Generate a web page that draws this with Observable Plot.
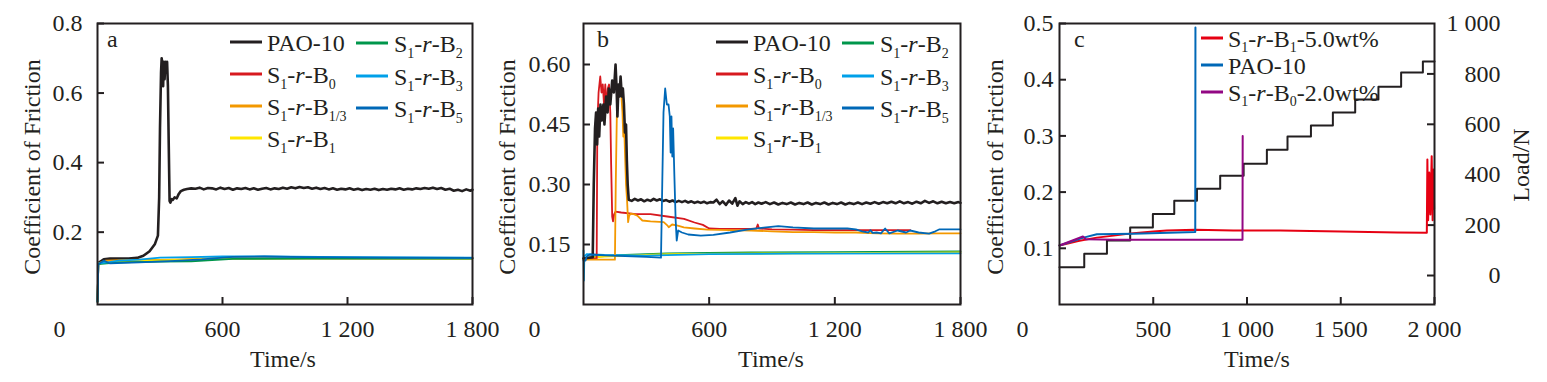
<!DOCTYPE html>
<html><head><meta charset="utf-8">
<script src="https://cdn.jsdelivr.net/npm/d3@7"></script>
<script src="https://cdn.jsdelivr.net/npm/@observablehq/plot@0.6"></script>
<style>
html,body{margin:0;padding:0;background:#fff;}
#wrap{position:relative;width:1547px;height:382px;overflow:hidden;}
#wrap svg{position:absolute;left:0;top:0;}
</style></head><body><div id="wrap"></div>
<script>
// ---------- tick values & labels ----------
const xTicksAB = [0, 600, 1200, 1800];
const xLabelsAB = ["0", "600", "1 200", "1 800"];
const yTicksA = [0.2, 0.4, 0.6, 0.8];
const yLabelsA = ["0.2", "0.4", "0.6", "0.8"];
const yTicksB = [0.15, 0.30, 0.45, 0.60];
const yLabelsB = ["0.15", "0.30", "0.45", "0.60"];
const xTicksC = [0, 500, 1000, 1500, 2000];
const xLabelsC = ["0", "500", "1 000", "1 500", "2 000"];
const yTicksC = [0.1, 0.2, 0.3, 0.4, 0.5];
const yLabelsC = ["0.1", "0.2", "0.3", "0.4", "0.5"];
const loadTicks = [0, 200, 400, 600, 800, 1000];
const loadLabels = ["0", "200", "400", "600", "800", "1 000"];

// ---------- series names & colours ----------
const namesAB = ["PAO-10", "S1-r-B0", "S1-r-B1/3", "S1-r-B1", "S1-r-B2", "S1-r-B3", "S1-r-B5"];
const colorsAB = ["#231f20", "#d7191f", "#f39800", "#ffe600", "#00964b", "#00a0e9", "#0068b7"];
const namesC = ["S1-r-B1-5.0wt%", "PAO-10", "S1-r-B0-2.0wt%"];
const colorsC = ["#e60012", "#0068b7", "#920783"];

// ---------- panel a : [time s, COF] ----------
const aPAO = [[5,0.112],[30,0.122],[60,0.124],[100,0.124],[150,0.124],[190,0.126],[220,0.132],[250,0.145],[275,0.165],[290,0.19],[296,0.30],[300,0.50],[305,0.66],[308,0.70],[312,0.68],[315,0.62],[318,0.69],[322,0.64],[326,0.69],[330,0.68],[334,0.69],[338,0.62],[342,0.45],[346,0.29],[350,0.285],[356,0.295],[362,0.293],[370,0.300],[380,0.297],[390,0.31],[400,0.318],[415,0.322],[430,0.324],[450,0.326],[470,0.325],[490,0.328],[510,0.323],[530,0.327],
[550,0.326],[570,0.323],[590,0.328],[610,0.324],[630,0.327],[650,0.322],[670,0.326],[690,0.324],[710,0.327],[730,0.323],[750,0.326],[770,0.322],[790,0.325],[810,0.327],[830,0.323],[850,0.326],[870,0.324],[890,0.328],[910,0.325],[930,0.329],[950,0.326],[970,0.330],[990,0.327],[1010,0.329],[1030,0.325],[1050,0.328],[1070,0.324],[1090,0.327],[1110,0.323],[1130,0.326],[1150,0.322],[1170,0.325],[1190,0.323],[1210,0.326],[1230,0.322],[1250,0.325],[1270,0.321],[1290,0.324],[1310,0.322],[1330,0.325],[1350,0.321],[1370,0.324],[1390,0.322],[1410,0.325],[1430,0.323],[1450,0.326],[1470,0.322],[1490,0.325],[1510,0.323],[1530,0.326],[1550,0.324],[1570,0.327],[1590,0.325],[1610,0.328],[1630,0.324],[1650,0.327],[1670,0.322],[1690,0.325],[1710,0.319],[1730,0.322],[1750,0.318],[1770,0.323],[1790,0.319],[1800,0.322]];
const aB0 = [[0,0],[4,0.108],[40,0.115],[150,0.117],[300,0.119],[450,0.121],[600,0.124],[900,0.125],[1200,0.125],[1800,0.125]];
const aB13 = [[0,0],[4,0.11],[40,0.118],[150,0.12],[250,0.121],[300,0.12],[400,0.122],[500,0.124],[600,0.126],[800,0.126],[1200,0.125],[1800,0.125]];
const aB1 = [[0,0],[4,0.11],[100,0.117],[300,0.119],[600,0.124],[1200,0.125],[1800,0.124]];
const aB2 = [[0,0],[4,0.108],[100,0.113],[300,0.115],[450,0.116],[550,0.12],[650,0.123],[1000,0.124],[1800,0.124]];
const aB3 = [[0,0],[4,0.11],[50,0.113],[100,0.118],[200,0.121],[300,0.127],[450,0.128],[600,0.13],[800,0.13],[1200,0.128],[1800,0.127]];
const aB5 = [[0,0],[4,0.108],[30,0.118],[60,0.11],[200,0.113],[350,0.117],[500,0.122],[650,0.129],[800,0.13],[1000,0.128],[1400,0.127],[1800,0.126]];

// ---------- panel b ----------
const bPAO = [[0,0.115],[44,0.118],[49,0.30],[55,0.44],[60,0.48],[65,0.40],[70,0.49],[75,0.42],[81,0.50],[88,0.46],[95,0.50],[100,0.45],[108,0.52],[115,0.48],[121,0.54],[128,0.50],[137,0.56],[145,0.53],[153,0.60],[158,0.54],[162,0.47],[167,0.55],[172,0.52],[177,0.57],[183,0.52],[188,0.54],[193,0.50],[198,0.43],[203,0.45],[207,0.36],[211,0.30],[216,0.262],
[230,0.259],[245,0.264],[260,0.260],[275,0.263],[290,0.258],[305,0.262],[320,0.259],[335,0.264],[350,0.260],[365,0.263],[380,0.259],[395,0.261],[410,0.257],[425,0.260],[440,0.256],[455,0.259],[470,0.256],[485,0.259],[500,0.255],[515,0.258],[530,0.254],[545,0.257],[560,0.254],[575,0.257],[590,0.253],[605,0.256],[620,0.255],[635,0.262],[650,0.251],[665,0.258],[680,0.249],[695,0.260],[710,0.252],[725,0.266],[735,0.247],[745,0.258],[760,0.251],[775,0.256],[790,0.252],[805,0.256],[820,0.251],[835,0.255],[850,0.252],[870,0.256],[890,0.251],[910,0.255],[930,0.250],[950,0.254],[970,0.251],[990,0.255],[1010,0.250],[1030,0.254],[1050,0.251],[1070,0.255],[1090,0.250],[1110,0.254],[1130,0.251],[1150,0.255],[1170,0.250],[1190,0.254],[1210,0.251],[1230,0.255],[1250,0.250],[1270,0.254],[1290,0.251],[1310,0.255],[1330,0.251],[1350,0.255],[1370,0.252],[1390,0.256],[1410,0.252],[1430,0.256],[1450,0.253],[1470,0.257],[1490,0.253],[1510,0.258],[1530,0.253],[1550,0.256],[1570,0.252],[1590,0.257],[1610,0.253],[1630,0.259],[1650,0.254],[1670,0.258],[1690,0.253],[1710,0.257],[1730,0.253],[1750,0.256],[1770,0.253],[1790,0.256],[1800,0.254]];
const bB0 = [[0,0.115],[63,0.115],[66,0.45],[72,0.53],[80,0.57],[86,0.53],[92,0.55],[98,0.50],[104,0.55],[110,0.49],[116,0.54],[122,0.55],[128,0.48],[132,0.35],[137,0.22],[141,0.208],[146,0.225],[153,0.232],[180,0.23],[250,0.226],[320,0.226],[400,0.22],[480,0.214],[530,0.205],[570,0.199],[600,0.19],[650,0.189],[800,0.189],[825,0.19],[832,0.2],[838,0.19],[900,0.188],[1000,0.187],[1100,0.186],[1200,0.186],[1300,0.186],[1400,0.186],[1500,0.186],[1560,0.186]];
const bB13 = [[0,0.112],[150,0.112],[154,0.30],[160,0.50],[166,0.54],[171,0.52],[176,0.55],[181,0.52],[186,0.48],[190,0.42],[194,0.45],[198,0.38],[203,0.30],[208,0.26],[213,0.206],[218,0.222],[225,0.227],[240,0.226],[257,0.222],[281,0.21],[320,0.208],[383,0.206],[400,0.198],[407,0.193],[423,0.2],[450,0.197],[479,0.193],[530,0.19],[592,0.187],[700,0.186],[800,0.185],[900,0.183],[1000,0.181],[1100,0.181],[1200,0.18],[1300,0.18],[1400,0.178],[1500,0.177],[1600,0.177],[1700,0.178],[1800,0.178]];
const bB1 = [[0,0.115],[100,0.12],[400,0.126],[1000,0.128],[1800,0.13]];
const bB2 = [[0,0.115],[60,0.12],[200,0.124],[400,0.128],[800,0.13],[1200,0.131],[1800,0.133]];
const bB3 = [[0,0.135],[2,0.06],[4,0.12],[15,0.126],[100,0.124],[300,0.122],[600,0.126],[1000,0.127],[1800,0.128]];
const bB5 = [[0,0.11],[10,0.11],[15,0.12],[30,0.125],[100,0.123],[200,0.121],[300,0.119],[370,0.117],[376,0.30],[382,0.48],[390,0.54],[398,0.50],[406,0.50],[412,0.47],[416,0.38],[420,0.47],[424,0.37],[428,0.44],[434,0.32],[440,0.21],[445,0.16],[452,0.185],[470,0.18],[500,0.175],[560,0.172],[620,0.174],[700,0.18],[780,0.187],[860,0.192],[930,0.196],[1000,0.193],[1100,0.19],[1200,0.19],[1260,0.19],[1300,0.188],[1330,0.183],[1360,0.18],[1370,0.186],[1380,0.179],[1400,0.18],[1420,0.178],[1440,0.19],[1460,0.178],[1500,0.185],[1540,0.18],[1560,0.185],[1600,0.18],[1650,0.177],[1680,0.183],[1700,0.188],[1800,0.188]];

// ---------- panel c ----------
const cB1 = [[0,0.105],[100,0.113],[199,0.119],[300,0.123],[395,0.127],[500,0.13],[572,0.1317],[724,0.133],[927,0.1317],[1177,0.1317],[1500,0.13],[1800,0.128],[1959,0.1275],[1962,0.258],[1966,0.15],[1972,0.235],[1978,0.16],[1985,0.264],[1990,0.15],[1995,0.24],[1998,0.17]];
const cPAO = [[0,0.105],[128,0.119],[199,0.125],[395,0.126],[724,0.129],[725,0.493]];
const cB0 = [[0,0.105],[125,0.121],[140,0.116],[300,0.115],[976,0.115],[977,0.30]];
const loadTimes = [0,132,253,377,498,612,733,857,982,1106,1216,1341,1458,1577,1701,1822,1938,2000];
const loadValues = [33,86,139,191,244,297,344,396,443,499,552,595,647,698,749,806,849,849];

// ---------- helpers ----------
const W = 1547, H = 382, ink = "#231f20";
const FONT = "'Liberation Serif','Times New Roman',serif";
const style = {background: "transparent", fontFamily: FONT, fontSize: "24px", color: ink, overflow: "visible"};
const fmt = (ticks, labels) => d => labels[ticks.findIndex(t => Math.abs(t - d) < 1e-9)];
const lineMarks = (list, colors, widths) => list.map((s, i) => Plot.line(s, {x: d => d[0], y: d => d[1], stroke: colors[i], strokeWidth: widths ? widths[i] : 1.8}));
const T = 7;

function panel({left, right, xDomain, yDomain, xTicks, xLabels, yTicks, yLabels, yPad, zeroDx, lines}) {
  const fw = right - left, fh = 304 - 23;
  return Plot.plot({
    width: W, height: H, marginLeft: left, marginRight: W - right, marginTop: 23, marginBottom: H - 304,
    x: {domain: xDomain}, y: {domain: yDomain}, style,
    marks: [
      ...lines,
      Plot.frame({stroke: ink, strokeWidth: 2}),
      Plot.ruleY(yTicks, {insetRight: fw - T, stroke: ink, strokeWidth: 2}),
      Plot.ruleX(xTicks.slice(1), {insetTop: fh - T, stroke: ink, strokeWidth: 2}),
      Plot.axisY({ticks: yTicks, tickFormat: fmt(yTicks, yLabels), tickSize: 0, tickPadding: yPad, label: null}),
      Plot.axisX({ticks: xTicks.slice(1), tickFormat: fmt(xTicks, xLabels), tickSize: 0, tickPadding: 15, label: null}),
      Plot.axisX({ticks: [0], tickFormat: fmt(xTicks, xLabels), tickSize: 0, tickPadding: 15, dx: zeroDx, label: null})
    ]
  });
}

const wrap = document.getElementById("wrap");

const pa = panel({left: 97, right: 472, xDomain: [0, 1800], yDomain: [-0.008, 0.8], xTicks: xTicksAB, xLabels: xLabelsAB,
  yTicks: yTicksA, yLabels: yLabelsA, yPad: 15, zeroDx: -38,
  lines: lineMarks([aPAO, aB0, aB13, aB1, aB2, aB3, aB5], colorsAB, [2.6, 1.8, 1.8, 1.8, 1.8, 1.8, 1.8])});
const orderB = [4, 3, 5, 1, 2, 0, 6];
const bData = [bPAO, bB0, bB13, bB1, bB2, bB3, bB5];
const pb = panel({left: 583, right: 960, xDomain: [0, 1800], yDomain: [0, 0.7025], xTicks: xTicksAB, xLabels: xLabelsAB,
  yTicks: yTicksB, yLabels: yLabelsB, yPad: 13, zeroDx: -49,
  lines: lineMarks(orderB.map(i => bData[i]), orderB.map(i => colorsAB[i]), orderB.map(i => i === 0 ? 2.6 : 1.8))});

// load (right axis) for panel c
const loadPts = loadTimes.map((t, i) => [t, loadValues[i]]);
const pcLoad = Plot.plot({
  width: W, height: H, marginLeft: 1059, marginRight: W - 1434, marginTop: 23, marginBottom: H - 304,
  x: {domain: [0, 2000], axis: null}, y: {domain: [-115, 1000]}, style,
  marks: [
    Plot.line(loadPts, {x: d => d[0], y: d => d[1], curve: "step-after", stroke: ink, strokeWidth: 2}),
    Plot.ruleY(loadTicks.slice(0, 5), {insetLeft: 375 - T, stroke: ink, strokeWidth: 2}),
    Plot.axisY({anchor: "right", ticks: loadTicks, tickFormat: fmt(loadTicks, loadLabels), tickSize: 0, tickPadding: 66, textAnchor: "end", label: null})
  ]
});
const pc = panel({left: 1059, right: 1434, xDomain: [0, 2000], yDomain: [0, 0.5], xTicks: xTicksC, xLabels: xLabelsC,
  yTicks: yTicksC, yLabels: yLabelsC, yPad: 6, zeroDx: -37,
  lines: lineMarks([cB1, cPAO, cB0], colorsC, [2, 2, 2])});

[pa, pb, pcLoad, pc].forEach(p => wrap.appendChild(p));

// ---------- annotations: legends, panel letters, axis titles ----------
const ann = d3.select(wrap).append("svg").attr("width", W).attr("height", H)
  .style("font-family", FONT).style("font-size", "24px").attr("fill", ink);

function rich(g, name, x, y, sub) {
  const t = g.append("text").attr("x", x).attr("y", y);
  const m = name.match(/^S(\d)-r-B([\d\/]+)(.*)$/);
  if (!m) { t.text(name); return; }
  t.append("tspan").text("S");
  t.append("tspan").attr("font-size", 14).attr("dy", sub).text(m[1]);
  t.append("tspan").attr("dy", -sub).text("-");
  t.append("tspan").attr("font-style", "italic").text("r");
  t.append("tspan").text("-B");
  t.append("tspan").attr("font-size", 14).attr("dy", sub).text(m[2]);
  if (m[3]) t.append("tspan").attr("dy", -sub).text(m[3]);
}
function legend(items, x0, len, gap, rowsY, sub = 6) {
  items.forEach(([name, color], i) => {
    const y = rowsY[i];
    ann.append("line").attr("x1", x0).attr("x2", x0 + len).attr("y1", y).attr("y2", y)
      .attr("stroke", color).attr("stroke-width", 3);
    rich(ann, name, x0 + len + gap, y + 9, sub);
  });
}
for (const off of [0, 486]) {
  legend([0, 1, 2, 3].map(i => [namesAB[i], colorsAB[i]]), 230 + off, 32, 5, [42, 74, 106, 138]);
  legend([4, 5, 6].map(i => [namesAB[i], colorsAB[i]]), 356 + off, 32, 6, [43, 76, 108]);
}
legend(namesC.map((n, i) => [n, colorsC[i]]), 1201, 22, 5, [38, 65, 92], 5);

[["a", 107], ["b", 597], ["c", 1074]].forEach(([s, x]) => ann.append("text").attr("x", x).attr("y", 47).text(s));
[283, 771, 1257].forEach(x => ann.append("text").attr("x", x).attr("y", 367).attr("text-anchor", "middle").text("Time/s"));
[40, 515, 1003].forEach(x => ann.append("text").attr("transform", `translate(${x},167) rotate(-90)`).attr("text-anchor", "middle").text("Coefficient of Friction"));
ann.append("text").attr("transform", "translate(1529,165) rotate(-90)").attr("text-anchor", "middle").text("Load/N");
</script></body></html>
